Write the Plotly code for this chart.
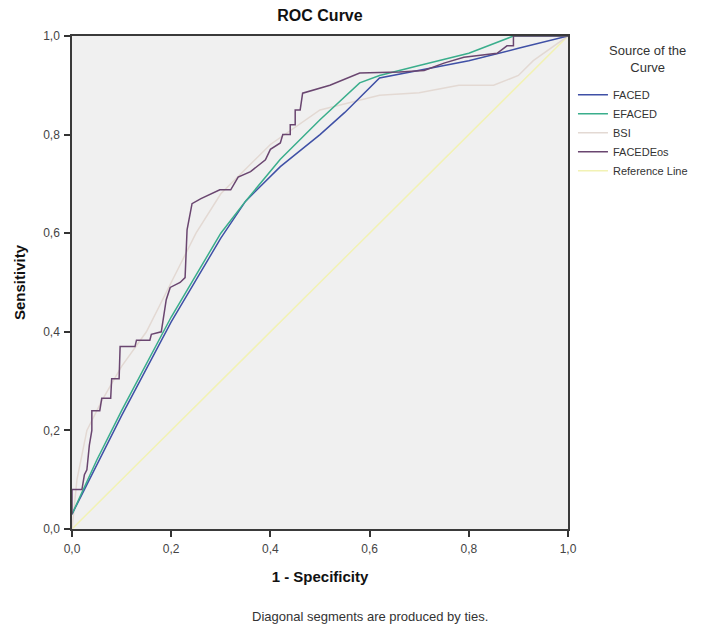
import plotly.graph_objects as go

# ==========================
# DATA
# ==========================
TICK_VALS = [0.0, 0.2, 0.4, 0.6, 0.8, 1.0]
TICK_TEXT = ["0,0", "0,2", "0,4", "0,6", "0,8", "1,0"]

faced_x = [0, 0.05, 0.1, 0.2, 0.3, 0.35, 0.42, 0.5, 0.55, 0.62, 0.7, 0.8, 0.9, 1.0]
faced_y = [0.03, 0.13, 0.23, 0.42, 0.59, 0.665, 0.735, 0.80, 0.845, 0.915, 0.93, 0.95, 0.975, 1.0]

efaced_x = [0, 0.05, 0.1, 0.2, 0.3, 0.35, 0.42, 0.5, 0.58, 0.62, 0.7, 0.8, 0.89, 1.0]
efaced_y = [0.03, 0.14, 0.24, 0.43, 0.60, 0.665, 0.75, 0.83, 0.905, 0.92, 0.94, 0.965, 1.0, 1.0]

bsi_x = [0, 0.01, 0.03, 0.06, 0.1, 0.15, 0.2, 0.25, 0.3, 0.4, 0.5, 0.58, 0.62,
         0.7, 0.78, 0.85, 0.9, 0.93, 1.0]
bsi_y = [0.0, 0.1, 0.2, 0.26, 0.33, 0.4, 0.5, 0.6, 0.68, 0.78, 0.85, 0.87, 0.88,
         0.885, 0.9, 0.9, 0.92, 0.95, 1.0]

eos_x = [0, 0, 0.02, 0.025, 0.03, 0.035, 0.04, 0.04, 0.056, 0.06, 0.078, 0.08,
         0.095, 0.097, 0.127, 0.13, 0.157, 0.16, 0.18, 0.19, 0.198, 0.218, 0.228,
         0.232, 0.242, 0.26, 0.298, 0.32, 0.335, 0.36, 0.39, 0.40, 0.42, 0.425,
         0.44, 0.44, 0.45, 0.45, 0.46, 0.465, 0.52, 0.58, 0.66, 0.71, 0.75, 0.79,
         0.857, 0.877, 0.89, 0.89, 1.0]
eos_y = [0.03, 0.08, 0.08, 0.11, 0.12, 0.17, 0.2, 0.24, 0.24, 0.265, 0.265, 0.305,
         0.305, 0.37, 0.37, 0.383, 0.383, 0.395, 0.40, 0.465, 0.49, 0.50, 0.51,
         0.607, 0.66, 0.67, 0.688, 0.688, 0.714, 0.725, 0.749, 0.77, 0.783, 0.80,
         0.80, 0.82, 0.82, 0.85, 0.85, 0.884, 0.90, 0.925, 0.927, 0.93, 0.945, 0.957,
         0.965, 0.98, 0.98, 1.0, 1.0]

ref_x = [0, 1]
ref_y = [0, 1]

# ==========================
# CHART
# ==========================
FONT = "Liberation Sans, Arial, sans-serif"

# the page body adds an 8px margin, so the figure is made 8px smaller
W, H = 707, 626

fig = go.Figure()

series = [
    ("FACED", faced_x, faced_y, "#3f50a6"),
    ("EFACED", efaced_x, efaced_y, "#3aae8c"),
    ("BSI", bsi_x, bsi_y, "#e3d9d3"),
    ("FACEDEos", eos_x, eos_y, "#6a4670"),
    ("Reference Line", ref_x, ref_y, "#f2f2b4"),
]

# draw reference & BSI first so the darker curves sit on top
order = [4, 2, 0, 1, 3]
for i in order:
    name, xs, ys, col = series[i]
    fig.add_trace(go.Scatter(
        x=xs, y=ys, mode="lines", name=name,
        line=dict(color=col, width=1.5),
        legendrank=i + 1,
        hoverinfo="skip",
    ))

axis_style = dict(
    range=[0, 1],
    tickmode="array",
    tickvals=TICK_VALS,
    ticktext=TICK_TEXT,
    ticks="outside",
    ticklen=6,
    tickwidth=1.5,
    tickcolor="#333",
    ticklabelstandoff=2,
    showgrid=False,
    zeroline=False,
    showline=True,
    mirror=True,
    linecolor="#3a3a3a",
    linewidth=1.5,
    automargin=False,
    tickfont=dict(family=FONT, size=12, color="#444"),
)

fig.update_xaxes(
    **axis_style,
    title=dict(text="<b>1 - Specificity</b>", standoff=16,
               font=dict(family=FONT, size=15, color="#111")),
)
fig.update_yaxes(
    **axis_style,
    title=dict(text="<b>Sensitivity</b>", standoff=14,
               font=dict(family=FONT, size=15, color="#111")),
)

# footnote
fig.add_annotation(
    text="Diagonal segments are produced by ties.",
    xref="paper", yref="paper", x=0.6, y=-0.178,
    showarrow=False, xanchor="center", yanchor="middle",
    font=dict(family=FONT, size=13, color="#333"),
)

# legend heading, centred like the original
fig.add_annotation(
    text="Source of the<br>Curve",
    xref="paper", yref="paper", x=1.161, y=0.953,
    showarrow=False, xanchor="center", yanchor="middle", align="center",
    font=dict(family=FONT, size=13, color="#333"),
)

fig.update_layout(
    width=W,
    height=H,
    margin=dict(l=64, r=147, t=28, b=105),
    paper_bgcolor="white",
    plot_bgcolor="#f0f0f0",
    title=dict(text="<b>ROC Curve</b>", x=0.5, xref="paper", xanchor="center",
               y=1 - 7 / H, yanchor="middle",
               font=dict(family=FONT, size=16, color="#111")),
    showlegend=True,
    legend=dict(
        x=1.01, y=0.91, xanchor="left", yanchor="top",
        bgcolor="rgba(0,0,0,0)",
        font=dict(family=FONT, size=11, color="#333"),
        tracegroupgap=0,
    ),
)

fig.write_html("out.html")
